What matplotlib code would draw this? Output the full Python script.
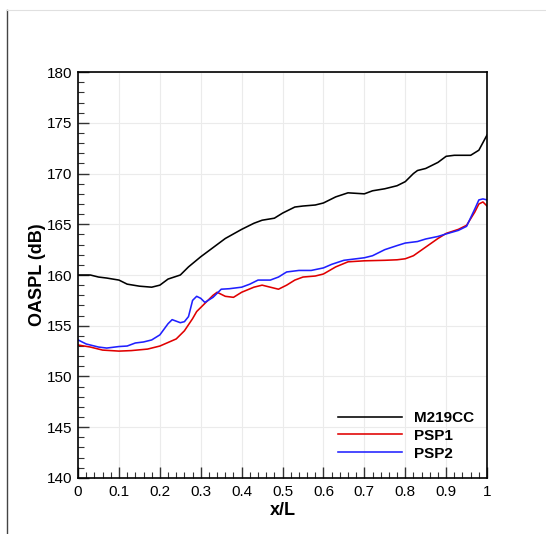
import numpy as np
import matplotlib
matplotlib.use('Agg')
from matplotlib import pyplot as plt
from matplotlib.ticker import MultipleLocator
from matplotlib.lines import Line2D

plt.rcParams['font.family'] = ['Liberation Sans', 'DejaVu Sans']

# OASPL along the cavity floor for the three cases
x_m219 = [0.0, 0.03, 0.05, 0.07, 0.10, 0.12, 0.15, 0.18, 0.20, 0.22, 0.25, 0.27, 0.30,
          0.33, 0.36, 0.40, 0.43, 0.45, 0.48, 0.50, 0.53, 0.55, 0.58, 0.60, 0.63, 0.66,
          0.70, 0.72, 0.75, 0.78, 0.80, 0.82, 0.83, 0.85, 0.88, 0.90, 0.92, 0.95, 0.96,
          0.98, 1.0]
m219 = [160.0, 160.0, 159.8, 159.7, 159.5, 159.1, 158.9, 158.8, 159.0, 159.6, 160.0, 160.8, 161.8,
        162.7, 163.6, 164.5, 165.1, 165.4, 165.6, 166.1, 166.7, 166.8, 166.9, 167.1, 167.7, 168.1,
        168.0, 168.3, 168.5, 168.8, 169.2, 170.0, 170.3, 170.5, 171.1, 171.7, 171.8, 171.8, 171.8,
        172.3, 173.8]

x_psp1 = [0.0, 0.03, 0.06, 0.10, 0.13, 0.17, 0.19, 0.20, 0.22, 0.24, 0.26, 0.28, 0.29, 0.31,
          0.33, 0.34, 0.36, 0.38, 0.40, 0.43, 0.45, 0.47, 0.49, 0.51, 0.53, 0.55, 0.58, 0.60,
          0.63, 0.66, 0.70, 0.75, 0.78, 0.80, 0.82, 0.85, 0.88, 0.90, 0.93, 0.95, 0.97, 0.98,
          0.99, 1.0]
psp1 = [153.1, 152.9, 152.6, 152.5, 152.55, 152.7, 152.9, 153.0, 153.35, 153.7, 154.5, 155.7, 156.4, 157.2,
        158.0, 158.3, 157.9, 157.8, 158.3, 158.8, 159.0, 158.8, 158.6, 159.0, 159.5, 159.8, 159.9, 160.1,
        160.8, 161.3, 161.4, 161.45, 161.5, 161.6, 161.9, 162.75, 163.6, 164.1, 164.5, 164.9, 166.2, 167.0,
        167.2, 166.8]

x_psp2 = [0.0, 0.02, 0.05, 0.07, 0.10, 0.12, 0.14, 0.16, 0.18, 0.20, 0.22, 0.23, 0.25, 0.26,
          0.27, 0.28, 0.29, 0.30, 0.31, 0.33, 0.35, 0.37, 0.40, 0.42, 0.44, 0.47, 0.49, 0.51,
          0.54, 0.57, 0.60, 0.62, 0.65, 0.68, 0.70, 0.72, 0.75, 0.78, 0.80, 0.83, 0.85, 0.88,
          0.90, 0.93, 0.95, 0.97, 0.98, 0.99, 1.0]
psp2 = [153.6, 153.2, 152.9, 152.8, 152.95, 153.0, 153.3, 153.4, 153.6, 154.1, 155.2, 155.6, 155.3, 155.4,
        155.9, 157.5, 157.9, 157.7, 157.3, 157.8, 158.6, 158.65, 158.8, 159.1, 159.5, 159.5, 159.8, 160.3,
        160.45, 160.45, 160.7, 161.05, 161.45, 161.6, 161.7, 161.9, 162.5, 162.9, 163.15, 163.3, 163.55, 163.8,
        164.05, 164.4, 164.8, 166.5, 167.4, 167.5, 167.4]

names = ['M219CC', 'PSP1', 'PSP2']
colors = ['black', '#e00000', '#2020ff']

fig = plt.figure(figsize=(5.46, 5.34), dpi=100)
ax = fig.add_axes([0.143, 0.105, 0.749, 0.760])

# frame lines around the figure
fig.add_artist(Line2D([0.013, 0.013], [0.0, 0.981], color='#444444', lw=1.0))
fig.add_artist(Line2D([0.013, 1.0], [0.981, 0.981], color='#e0e0e0', lw=0.8))

for xs, ys, c, n in zip([x_m219, x_psp1, x_psp2], [m219, psp1, psp2], colors, names):
    ax.plot(xs, ys, color=c, lw=1.15, label=n, solid_joinstyle='round')

ax.set_xlim(0, 1)
ax.set_ylim(140, 180)
ax.xaxis.set_minor_locator(MultipleLocator(0.02))
ax.yaxis.set_major_locator(MultipleLocator(5))
ax.yaxis.set_minor_locator(MultipleLocator(1))
ax.set_xticks(np.arange(0, 1.01, 0.1))
ax.set_xticklabels(['0', '0.1', '0.2', '0.3', '0.4', '0.5', '0.6', '0.7', '0.8', '0.9', '1'])

ax.tick_params(which='both', direction='in', top=False, right=False, labelsize=11, color='#333333')
ax.tick_params(axis='x', which='major', length=8, width=1.0, pad=5)
ax.tick_params(axis='y', which='major', length=8, width=1.0, pad=4)
ax.tick_params(which='minor', length=4, width=0.8)
ax.grid(True, which='major', color='#ebebeb', lw=0.8)
for s in ax.spines.values():
    s.set_linewidth(1.2)

ax.set_xlabel('x/L', fontsize=13, fontweight='bold', labelpad=2)
ax.set_ylabel('OASPL (dB)', fontsize=13, fontweight='bold', labelpad=1)

leg = ax.legend(loc='upper left', bbox_to_anchor=(0.617, 0.184), frameon=False, borderpad=0,
                handlelength=4.2, handletextpad=0.8, labelspacing=0.25,
                prop={'weight': 'bold', 'size': 11})

fig.savefig('out.png', dpi=100)
